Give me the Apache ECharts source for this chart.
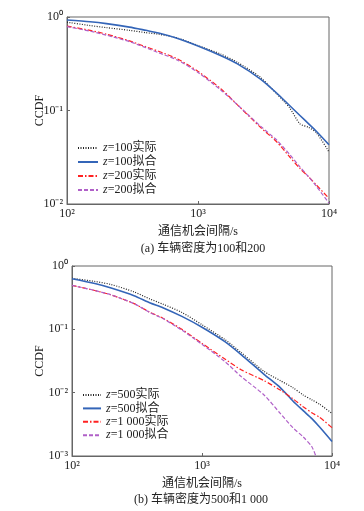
<!DOCTYPE html>
<html>
<head>
<meta charset="utf-8">
<script src="https://cdn.jsdelivr.net/npm/echarts@6/dist/echarts.min.js"></script>
<style>
  html, body { margin: 0; padding: 0; background: #fff; }
  #chart { width: 364px; height: 511px; }
</style>
</head>
<body>
<div id="chart"></div>
<script>
// 通信机会间隔 (s)
var gapA = [100, 150, 200, 300, 400, 500, 700, 1000, 1500, 2000, 3000, 4000, 5000, 6000, 7000, 8000, 10000];
var gapB = [100, 150, 200, 300, 400, 500, 700, 1000, 1500, 2000, 3000, 4000, 5000, 6000, 7000, 8000, 10000];
var gapB1000fit = [100, 150, 200, 300, 400, 500, 700, 1000, 1500, 2000, 3000, 4000, 5000, 6000, 7000, 7500];

// (a) 车辆密度100和200
var z100real = [0.88, 0.81, 0.77, 0.72, 0.68, 0.655, 0.595, 0.495, 0.40, 0.327, 0.226, 0.15, 0.107, 0.072, 0.066, 0.058, 0.036];
var z100fit  = [0.93, 0.89, 0.85, 0.78, 0.72, 0.675, 0.59, 0.49, 0.385, 0.315, 0.217, 0.153, 0.113, 0.0885, 0.072, 0.060, 0.043];
var z200real = [0.80, 0.72, 0.655, 0.556, 0.48, 0.43, 0.355, 0.262, 0.17, 0.115, 0.066, 0.046, 0.032, 0.024, 0.0195, 0.016, 0.0115];
var z200fit  = [0.79, 0.705, 0.64, 0.545, 0.47, 0.415, 0.345, 0.255, 0.165, 0.115, 0.068, 0.048, 0.034, 0.025, 0.0195, 0.0155, 0.0102];

// (b) 车辆密度500和1000
var z500real  = [0.64, 0.57, 0.51, 0.39, 0.30, 0.25, 0.185, 0.118, 0.069, 0.043, 0.0217, 0.0155, 0.012, 0.0092, 0.0077, 0.0066, 0.0047];
var z500fit   = [0.63, 0.53, 0.45, 0.34, 0.26, 0.22, 0.16, 0.108, 0.064, 0.040, 0.0195, 0.012, 0.0074, 0.0052, 0.0039, 0.0029, 0.0017];
var z1000real = [0.495, 0.41, 0.35, 0.255, 0.185, 0.15, 0.10, 0.06, 0.034, 0.023, 0.0155, 0.011, 0.008, 0.006, 0.0048, 0.0041, 0.0028];
var z1000fit  = [0.495, 0.41, 0.35, 0.254, 0.183, 0.148, 0.097, 0.058, 0.031, 0.018, 0.0092, 0.0047, 0.0028, 0.002, 0.0014, 0.001];

var namesA = ['z=100实际', 'z=100拟合', 'z=200实际', 'z=200拟合'];
var namesB = ['z=500实际', 'z=500拟合', 'z=1 000实际', 'z=1 000拟合'];

var serif = '"Liberation Serif", "Noto Sans CJK SC", serif';
var sup = {'0': '\u2070', '1': '\u00b9', '2': '\u00b2', '3': '\u00b3', '4': '\u2074', '-': '\u207b'};

function pairs(xs, ys) {
    return ys.map(function (y, i) { return [xs[i], y]; });
}

function powLabel(v) {
    var e = String(Math.round(Math.log10(v)));
    return '10' + e.split('').map(function (c) { return sup[c]; }).join('');
}

function xAxisOf(idx) {
    return {
        type: 'log', logBase: 10, gridIndex: idx, min: 100, max: 10000,
        name: '通信机会间隔/s', nameLocation: 'middle', nameGap: 22,
        nameTextStyle: {fontFamily: serif, fontSize: 12, color: '#222'},
        axisLine: {lineStyle: {color: '#666', width: 1}},
        axisTick: {inside: true, length: 3, lineStyle: {color: '#666'}},
        minorTick: {show: false},
        splitLine: {show: false},
        axisLabel: {fontFamily: serif, fontSize: 12, color: '#222', margin: 4, formatter: powLabel}
    };
}

function yAxisOf(idx, min, gap) {
    return {
        type: 'log', logBase: 10, gridIndex: idx, min: min, max: 1,
        name: 'CCDF', nameLocation: 'middle', nameGap: gap, nameMoveOverlap: false,
        nameTextStyle: {fontFamily: serif, fontSize: 12, color: '#222'},
        axisLine: {lineStyle: {color: '#666', width: 1}},
        axisTick: {inside: true, length: 3, lineStyle: {color: '#666'}},
        splitLine: {show: false},
        axisLabel: {fontFamily: serif, fontSize: 12, color: '#222', margin: 4, formatter: powLabel}
    };
}

var styles = [
    {color: '#222222', width: 1.2, type: [1, 1.5]},
    {color: '#3465b8', width: 1.6, type: 'solid'},
    {color: '#ff2222', width: 1.2, type: [5, 2, 1.5, 2]},
    {color: '#b060c8', width: 1.2, type: [4, 2]}
];

function lineSeries(name, idx, data, st) {
    return {
        name: name, type: 'line', xAxisIndex: idx, yAxisIndex: idx,
        data: data, showSymbol: false, symbol: 'none', smooth: 0.25,
        lineStyle: {color: st.color, width: st.width, type: st.type},
        itemStyle: {color: st.color},
        animation: false
    };
}

var legendRich = {
    i: {fontFamily: serif, fontStyle: 'italic', fontSize: 12, lineHeight: 12, color: '#222'},
    n: {fontFamily: serif, fontSize: 12, lineHeight: 12, color: '#222'}
};

function legendOf(names, left, top, w, gap) {
    return {
        data: names, orient: 'vertical', left: left, top: top, padding: 0,
        itemWidth: w, itemHeight: 12, itemGap: gap,
        itemStyle: {opacity: 0},
        textStyle: {rich: legendRich},
        formatter: function (n) { return '{i|z}{n|' + n.slice(1) + '}'; }
    };
}

var option = {
    backgroundColor: '#fff',
    animation: false,
    grid: [
        {left: 67, top: 17, width: 262, height: 187, show: true, borderColor: '#666', borderWidth: 1},
        {left: 72, top: 266, width: 260, height: 190, show: true, borderColor: '#666', borderWidth: 1}
    ],
    title: [
        {text: '(a) 车辆密度为100和200', left: 198, top: 238, textAlign: 'center',
            textStyle: {fontFamily: serif, fontSize: 12, fontWeight: 'normal', color: '#222'}},
        {text: '(b) 车辆密度为500和1 000', left: 196, top: 489, textAlign: 'center',
            textStyle: {fontFamily: serif, fontSize: 12, fontWeight: 'normal', color: '#222'}}
    ],
    legend: [legendOf(namesA, 77, 142, 20, 2), legendOf(namesB, 82, 389, 18, 1.4)],
    xAxis: [xAxisOf(0), xAxisOf(1)],
    yAxis: [yAxisOf(0, 0.01, 21), yAxisOf(1, 0.001, 26)],
    series: [
        lineSeries(namesA[0], 0, pairs(gapA, z100real), styles[0]),
        lineSeries(namesA[1], 0, pairs(gapA, z100fit), styles[1]),
        lineSeries(namesA[2], 0, pairs(gapA, z200real), styles[2]),
        lineSeries(namesA[3], 0, pairs(gapA, z200fit), styles[3]),
        lineSeries(namesB[0], 1, pairs(gapB, z500real), styles[0]),
        lineSeries(namesB[1], 1, pairs(gapB, z500fit), styles[1]),
        lineSeries(namesB[2], 1, pairs(gapB, z1000real), styles[2]),
        lineSeries(namesB[3], 1, pairs(gapB1000fit, z1000fit), styles[3])
    ]
};

var chart = echarts.init(document.getElementById('chart'), null, {renderer: 'canvas'});
chart.setOption(option);
</script>
</body>
</html>
